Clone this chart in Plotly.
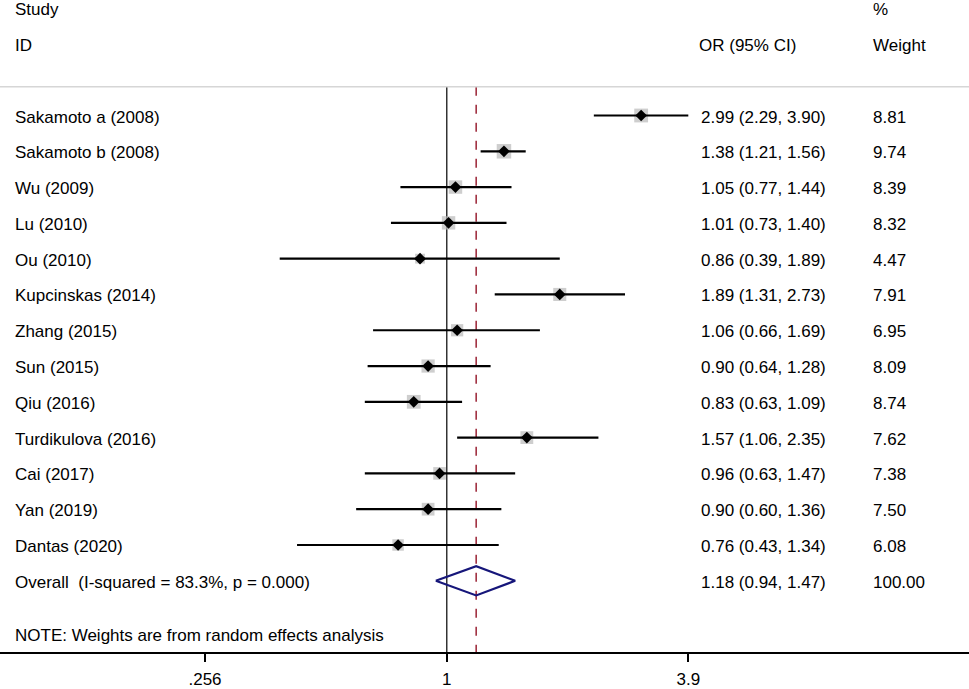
import numpy as np
import plotly.graph_objects as go

# study data
studies = ["Sakamoto a (2008)", "Sakamoto b (2008)", "Wu (2009)", "Lu (2010)", "Ou (2010)",
           "Kupcinskas (2014)", "Zhang (2015)", "Sun (2015)", "Qiu (2016)",
           "Turdikulova (2016)", "Cai (2017)", "Yan (2019)", "Dantas (2020)"]
odds = [2.99, 1.38, 1.05, 1.01, 0.86, 1.89, 1.06, 0.90, 0.83, 1.57, 0.96, 0.90, 0.76]
ci_low = [2.29, 1.21, 0.77, 0.73, 0.39, 1.31, 0.66, 0.64, 0.63, 1.06, 0.63, 0.60, 0.43]
ci_high = [3.90, 1.56, 1.44, 1.40, 1.89, 2.73, 1.69, 1.28, 1.09, 2.35, 1.47, 1.36, 1.34]
weights = [8.81, 9.74, 8.39, 8.32, 4.47, 7.91, 6.95, 8.09, 8.74, 7.62, 7.38, 7.50, 6.08]

overall_label = "Overall  (I-squared = 83.3%, p = 0.000)"
overall_or, overall_lo, overall_hi, overall_w = 1.18, 0.94, 1.47, 100.00
note = "NOTE: Weights are from random effects analysis"

tick_vals = [0.256, 1, 3.9]
tick_text = [".256", "1", "3.9"]

W, H = 969, 689
FONT = dict(family="Liberation Sans, Arial, sans-serif", size=17, color="black")

rows = list(range(len(studies)))
overall_row = len(studies)
top_line = -0.8
bottom = 14.99
row_px = 36.12
axis_px = 658

fig = go.Figure()

# null line and pooled estimate line
fig.add_trace(go.Scatter(x=[1, 1], y=[top_line, bottom], mode="lines",
                         line=dict(color="black", width=1.2), hoverinfo="skip"))
fig.add_trace(go.Scatter(x=[overall_or, overall_or], y=[top_line, bottom], mode="lines",
                         line=dict(color="#9b2335", width=1.5, dash="dash"), hoverinfo="skip"))

# weight boxes
box_sizes = [14.5 * np.sqrt(w / 9.74) for w in weights]
fig.add_trace(go.Scatter(x=odds, y=rows, mode="markers",
                         marker=dict(symbol="square", size=box_sizes, color="#b9b9b9",
                                     line=dict(width=0)), hoverinfo="skip"))

# confidence intervals
cx, cy = [], []
for lo, hi, r in zip(ci_low, ci_high, rows):
    cx += [lo, hi, None]
    cy += [r, r, None]
fig.add_trace(go.Scatter(x=cx, y=cy, mode="lines", line=dict(color="black", width=2.2),
                         hoverinfo="skip"))

# point estimates
fig.add_trace(go.Scatter(x=odds, y=rows, mode="markers",
                         marker=dict(symbol="diamond", size=9, color="black"), hoverinfo="skip"))

# overall diamond
dh = 0.41
fig.add_trace(go.Scatter(x=[overall_lo, overall_or, overall_hi, overall_or, overall_lo],
                         y=[overall_row, overall_row - dh, overall_row, overall_row + dh, overall_row],
                         mode="lines", line=dict(color="#16167a", width=2.2), hoverinfo="skip"))

# header separator
fig.add_shape(type="line", xref="paper", yref="y", x0=0, x1=1, y0=top_line, y1=top_line,
              line=dict(color="#d6d6d6", width=1.5))

ann = []
def txt(x_px, y, s):
    ann.append(dict(x=x_px / W, y=y, xref="paper", yref="y", text=s, showarrow=False,
                    xanchor="left", yanchor="middle", yshift=-1.5, font=FONT))

txt(13, -3, "Study")
txt(13, -2, "ID")
txt(871, -3, "%")
txt(697, -2, "OR (95% CI)")
txt(871, -2, "Weight")

for s, o, lo, hi, w, r in zip(studies, odds, ci_low, ci_high, weights, rows):
    txt(13, r, s)
    txt(699, r, f"{o:.2f} ({lo:.2f}, {hi:.2f})")
    txt(871, r, f"{w:.2f}")

txt(13, overall_row, overall_label)
txt(699, overall_row, f"{overall_or:.2f} ({overall_lo:.2f}, {overall_hi:.2f})")
txt(871, overall_row, f"{overall_w:.2f}")
txt(13, 14.5, note)

px_per_log10 = 177.45 * np.log(10)
x_left = -446.8 / px_per_log10
x_right = (W - 446.8) / px_per_log10
y_top = bottom - axis_px / row_px

fig.update_layout(
    width=W, height=H,
    margin=dict(l=0, r=0, t=0, b=H - axis_px),
    plot_bgcolor="white", paper_bgcolor="white",
    showlegend=False,
    annotations=ann,
    font=FONT,
    xaxis=dict(type="log", range=[x_left, x_right], tickvals=tick_vals, ticktext=tick_text,
               ticks="outside", ticklen=8, tickwidth=2, tickcolor="black",
               ticklabelstandoff=3,
               showline=True, linewidth=2, linecolor="black", showgrid=False,
               zeroline=False, tickfont=FONT),
    yaxis=dict(range=[bottom, y_top], visible=False, showgrid=False, zeroline=False),
)

fig.write_html("out.html", config={"displayModeBar": False},
               post_script="document.body.style.margin='0';document.body.style.overflow='hidden';")
